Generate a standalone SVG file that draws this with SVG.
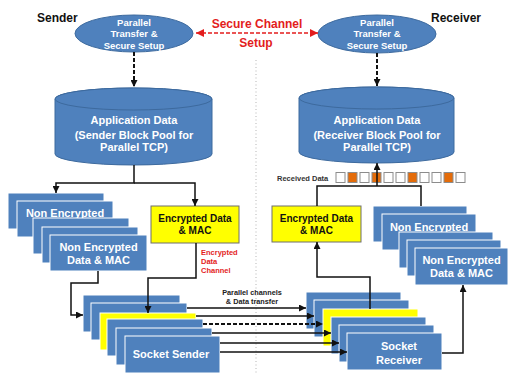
<svg xmlns="http://www.w3.org/2000/svg" width="509" height="375" viewBox="0 0 509 375">
<defs>
<style>
text{font-family:"Liberation Sans",Arial,sans-serif;font-weight:bold;}
.w{fill:#fff;text-anchor:middle;}
.k{fill:#111;text-anchor:middle;}
.blue{fill:#4f81bd;stroke:#fff;stroke-width:1;}
.shape{fill:#4f81bd;stroke:#3d6a9e;stroke-width:1;}
.yel{fill:#ffff00;stroke:#6f6f6f;stroke-width:1;}
.yels{fill:#ffff00;stroke:#fff;stroke-width:1;}
.ln{fill:none;stroke:#111;stroke-width:1.5;}
.dash{fill:none;stroke:#111;stroke-width:2;stroke-dasharray:4 2;}
.sq{fill:#fff;stroke:#8c8c8c;stroke-width:1;}
.sqo{fill:#e46c0a;stroke:#8c8c8c;stroke-width:1;}
</style>
<marker id="ah" viewBox="0 0 8 8" refX="8" refY="4" markerWidth="7" markerHeight="7" markerUnits="userSpaceOnUse" orient="auto"><path d="M0,0 L8,4 L0,8 z" fill="#111"/></marker>
<marker id="ahr" viewBox="0 0 8 8" refX="8" refY="4" markerWidth="8" markerHeight="8" markerUnits="userSpaceOnUse" orient="auto-start-reverse"><path d="M0,0 L8,4 L0,8 z" fill="#e31d1d"/></marker>
</defs>
<rect width="509" height="375" fill="#fff"/>
<line x1="256" y1="60" x2="256" y2="375" stroke="#b5b5b5" stroke-width="1" stroke-dasharray="1 2.5"/>

<text x="37" y="22" font-size="12" fill="#111">Sender</text>
<text x="431" y="22" font-size="12" fill="#111">Receiver</text>

<g id="sender-setup">
<ellipse cx="134" cy="33.5" rx="59" ry="18.5" class="shape"/>
<text class="w" font-size="9.5" x="134" y="25.5">Parallel</text>
<text class="w" font-size="9.5" x="134" y="37">Transfer &amp;</text>
<text class="w" font-size="9.5" x="134" y="48.5">Secure Setup</text>
</g>
<g id="receiver-setup">
<ellipse cx="377" cy="34" rx="59" ry="19" class="shape"/>
<text class="w" font-size="9.5" x="377" y="25.5">Parallel</text>
<text class="w" font-size="9.5" x="377" y="37">Transfer &amp;</text>
<text class="w" font-size="9.5" x="377" y="48.5">Secure Setup</text>
</g>

<g id="secure-channel-label">
<text x="257" y="28" font-size="12" fill="#e31d1d" text-anchor="middle">Secure Channel</text>
<text x="256" y="47" font-size="12" fill="#e31d1d" text-anchor="middle">Setup</text>
</g>

<g id="sender-app-data">
<path d="M55,99 V154 A78.5,11 0 0 0 212,154 V99 A78.5,11 0 0 0 55,99 Z" class="shape"/>
<ellipse cx="133.5" cy="99" rx="78.5" ry="11" class="shape"/>
<text class="w" font-size="11" x="134" y="124">Application Data</text>
<text class="w" font-size="11" x="134" y="139">(Sender Block Pool for</text>
<text class="w" font-size="11" x="134" y="151">Parallel TCP)</text>
</g>
<g id="receiver-app-data">
<path d="M299,98 V152 A77.5,11 0 0 0 454,152 V98 A77.5,11 0 0 0 299,98 Z" class="shape"/>
<ellipse cx="376.5" cy="98" rx="77.5" ry="11" class="shape"/>
<text class="w" font-size="11" x="377" y="124">Application Data</text>
<text class="w" font-size="11" x="377" y="139">(Receiver Block Pool for</text>
<text class="w" font-size="11" x="377" y="151">Parallel TCP)</text>
</g>

<g id="sender-nonenc">
<rect x="8" y="193" width="96" height="36" class="blue"/>
<rect x="17" y="201" width="96" height="36" class="blue"/>
<text class="w" font-size="11" x="65" y="217">Non Encrypted</text>
<rect x="33" y="218" width="96" height="36" class="blue"/>
<rect x="42" y="227" width="96" height="36" class="blue"/>
<rect x="50" y="235" width="97" height="36" class="blue"/>
<text class="w" font-size="11" x="98.5" y="251">Non Encrypted</text>
<text class="w" font-size="11" x="98.5" y="264">Data &amp; MAC</text>
</g>

<g id="sender-enc">
<rect x="151" y="206" width="88" height="37" class="yel"/>
<text class="k" font-size="10" x="195" y="221.5">Encrypted Data</text>
<text class="k" font-size="10" x="195" y="233.5">&amp; MAC</text>
</g>
<g id="enc-channel-label">
<text x="201" y="255" font-size="7.5" fill="#e31d1d">Encrypted</text>
<text x="201" y="264" font-size="7.5" fill="#e31d1d">Data</text>
<text x="201" y="273" font-size="7.5" fill="#e31d1d">Channel</text>
</g>

<g id="socket-sender">
<rect x="83" y="295" width="97" height="37" class="blue"/>
<rect x="91" y="303" width="96" height="37" class="blue"/>
<rect x="100" y="313" width="96" height="37" class="yels"/>
<rect x="107" y="319" width="96" height="37" class="blue"/>
<rect x="116" y="328" width="96" height="37" class="blue"/>
<rect x="125" y="336" width="95" height="37" class="blue"/>
<text class="w" font-size="11" x="171" y="358">Socket Sender</text>
</g>

<g id="parallel-label">
<text x="252" y="295" font-size="7.3" fill="#222" text-anchor="middle">Parallel channels</text>
<text x="252" y="304" font-size="7.3" fill="#222" text-anchor="middle">&amp; Data transfer</text>
</g>

<g id="socket-receiver">
<rect x="306" y="292" width="95" height="37" class="blue"/>
<rect x="314" y="300" width="95" height="37" class="blue"/>
<rect x="323" y="309" width="95" height="37" class="yels"/>
<rect x="331" y="317" width="95" height="37" class="blue"/>
<rect x="339" y="325" width="95" height="37" class="blue"/>
<rect x="347" y="333" width="95" height="37" class="blue"/>
<text class="w" font-size="11" x="399" y="350">Socket</text>
<text class="w" font-size="11" x="399" y="364">Receiver</text>
</g>

<g id="receiver-enc">
<rect x="272" y="206" width="89" height="36" class="yel"/>
<text class="k" font-size="10" x="316.5" y="221.5">Encrypted Data</text>
<text class="k" font-size="10" x="316.5" y="233.5">&amp; MAC</text>
</g>

<g id="receiver-nonenc">
<rect x="373" y="206" width="94" height="36" class="blue"/>
<rect x="382" y="214" width="94" height="36" class="blue"/>
<text class="w" font-size="11" x="429" y="231">Non Encrypted</text>
<rect x="399" y="232" width="94" height="36" class="blue"/>
<rect x="407" y="240" width="94" height="36" class="blue"/>
<rect x="415" y="248" width="93" height="37" class="blue"/>
<text class="w" font-size="11" x="461.5" y="264">Non Encrypted</text>
<text class="w" font-size="11" x="461.5" y="277">Data &amp; MAC</text>
</g>

<g id="received-data">
<text x="277" y="180.5" font-size="7.5" fill="#333">Received Data</text>
<rect x="336" y="172.5" width="9" height="10" class="sq"/>
<rect x="348" y="172.5" width="9" height="10" class="sqo"/>
<rect x="360" y="172.5" width="9" height="10" class="sq"/>
<rect x="372" y="172.5" width="9" height="10" class="sqo"/>
<rect x="384" y="172.5" width="9" height="10" class="sq"/>
<rect x="396" y="172.5" width="9" height="10" class="sq"/>
<rect x="408" y="172.5" width="9" height="10" class="sqo"/>
<rect x="420" y="172.5" width="9" height="10" class="sq"/>
<rect x="432" y="172.5" width="9" height="10" class="sq"/>
<rect x="444" y="172.5" width="9" height="10" class="sqo"/>
<rect x="456" y="172.5" width="9" height="10" class="sq"/>
</g>

<g id="connectors">
<line x1="134" y1="52" x2="134" y2="87" class="dash" marker-end="url(#ah)"/>
<line x1="377" y1="53" x2="377" y2="86" class="dash" marker-end="url(#ah)"/>
<line x1="196" y1="33" x2="318" y2="33" fill="none" stroke="#e31d1d" stroke-width="1.6" stroke-dasharray="4 2" marker-start="url(#ahr)" marker-end="url(#ahr)"/>
<path d="M134,165 V183 H56 V193" class="ln" marker-end="url(#ah)"/>
<path d="M134,183 H195 V206" class="ln" marker-end="url(#ah)"/>
<path d="M196,243 V278 H148 V313" class="ln" marker-end="url(#ah)"/>
<path d="M98,271 V283 H71 V315 H83" class="ln" marker-end="url(#ah)"/>
<line x1="187" y1="308" x2="306" y2="308" class="ln" marker-end="url(#ah)"/>
<line x1="196" y1="316" x2="314" y2="316" class="ln" marker-end="url(#ah)"/>
<line x1="203" y1="324" x2="323" y2="324" class="dash" marker-end="url(#ah)"/>
<line x1="212" y1="333" x2="331" y2="333" class="ln" marker-end="url(#ah)"/>
<line x1="220" y1="343" x2="339" y2="343" class="ln" marker-end="url(#ah)"/>
<line x1="220" y1="352" x2="347" y2="352" class="ln" marker-end="url(#ah)"/>
<path d="M370,309 V277 H317 V242" class="ln" marker-end="url(#ah)"/>
<path d="M442,353 H463 V285" class="ln" marker-end="url(#ah)"/>
<path d="M317,206 V186 H421 V206" class="ln"/>
<line x1="377" y1="186" x2="377" y2="163" class="ln" marker-end="url(#ah)"/>
</g>
</svg>
